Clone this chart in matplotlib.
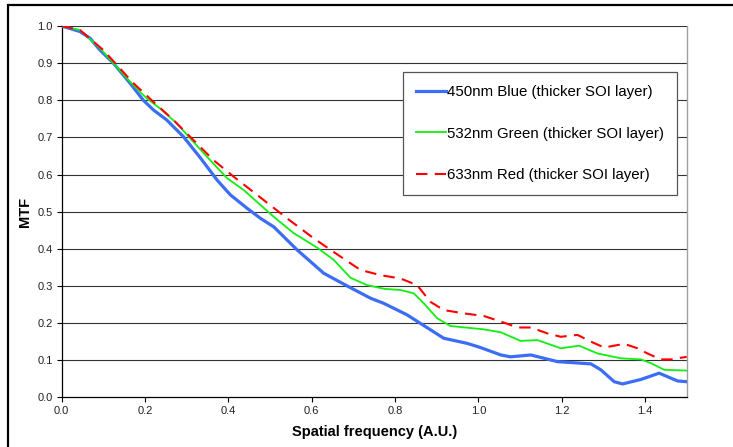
import matplotlib
matplotlib.use('Agg')
import matplotlib.pyplot as plt
from matplotlib.patches import Rectangle
from matplotlib.ticker import FormatStrFormatter

plt.rcParams['font.family'] = ['Liberation Sans', 'DejaVu Sans']

# ──────────────────── Data ────────────────────
blue_x = [0.0, 0.044, 0.068, 0.092, 0.124, 0.164, 0.196, 0.22, 0.252, 0.292,
          0.332, 0.373, 0.405, 0.445, 0.477, 0.509, 0.565, 0.629, 0.685, 0.741,
          0.773, 0.829, 0.861, 0.917, 0.974, 1.005, 1.054, 1.077, 1.126, 1.19,
          1.27, 1.294, 1.326, 1.346, 1.39, 1.434, 1.478, 1.50]
blue_y = [1.0, 0.985, 0.967, 0.935, 0.90, 0.846, 0.80, 0.774, 0.747, 0.702,
          0.646, 0.585, 0.545, 0.509, 0.482, 0.459, 0.397, 0.334, 0.30, 0.267,
          0.253, 0.222, 0.199, 0.159, 0.145, 0.134, 0.114, 0.109, 0.114, 0.096,
          0.090, 0.074, 0.042, 0.036, 0.048, 0.065, 0.044, 0.042]

green_x = [0.0, 0.044, 0.092, 0.164, 0.204, 0.236, 0.276, 0.316, 0.356, 0.397,
           0.437, 0.477, 0.509, 0.557, 0.613, 0.653, 0.693, 0.733, 0.775, 0.813,
           0.845, 0.869, 0.901, 0.933, 1.013, 1.054, 1.101, 1.142, 1.198, 1.242,
           1.286, 1.342, 1.39, 1.414, 1.446, 1.50]
green_y = [1.0, 0.989, 0.94, 0.85, 0.805, 0.778, 0.738, 0.688, 0.639, 0.59,
           0.558, 0.518, 0.486, 0.442, 0.403, 0.370, 0.322, 0.302, 0.292, 0.289,
           0.280, 0.253, 0.213, 0.192, 0.183, 0.175, 0.152, 0.154, 0.132, 0.139,
           0.118, 0.105, 0.102, 0.092, 0.074, 0.072]

red_x = [0.0, 0.044, 0.10, 0.172, 0.22, 0.268, 0.316, 0.364, 0.413, 0.477,
         0.541, 0.605, 0.669, 0.717, 0.765, 0.813, 0.853, 0.885, 0.917, 0.965,
         1.013, 1.054, 1.094, 1.126, 1.166, 1.198, 1.238, 1.27, 1.302, 1.35,
         1.382, 1.406, 1.438, 1.462, 1.50]
red_y = [1.0, 0.989, 0.935, 0.846, 0.796, 0.747, 0.693, 0.639, 0.594, 0.538,
         0.482, 0.428, 0.379, 0.343, 0.329, 0.32, 0.302, 0.257, 0.235, 0.226,
         0.219, 0.204, 0.188, 0.188, 0.172, 0.163, 0.168, 0.150, 0.134, 0.144,
         0.132, 0.118, 0.102, 0.102, 0.109]

labels = ['450nm Blue (thicker SOI layer)',
          '532nm Green (thicker SOI layer)',
          '633nm Red (thicker SOI layer)']
x_ticks = [0.0, 0.2, 0.4, 0.6, 0.8, 1.0, 1.2, 1.4]
y_ticks = [0.0, 0.1, 0.2, 0.3, 0.4, 0.5, 0.6, 0.7, 0.8, 0.9, 1.0]

# ──────────────────── Figure ────────────────────
fig = plt.figure(figsize=(7.33, 4.47), dpi=100)
ax = fig.add_axes([0.0842, 0.1112, 0.8526, 0.8306])

# outer chart border (cut off at right / bottom like the reference)
fig.patches.append(Rectangle((8 / 733, -0.2), 1.2, 0.2 + (1 - 5 / 447),
                             transform=fig.transFigure, fill=False,
                             edgecolor='black', linewidth=1.6, zorder=0))

for y in y_ticks[1:]:
    ax.axhline(y, color='#333333', linewidth=0.8, zorder=1)

ax.plot(blue_x, blue_y, color='#3b6df5', linewidth=2.3, label=labels[0],
        zorder=3, solid_joinstyle='round')
ax.plot(green_x, green_y, color='#11ee11', linewidth=1.3, label=labels[1],
        zorder=3, solid_joinstyle='round')
ax.plot(red_x, red_y, color='#ff0000', linewidth=1.5, dashes=(5.5, 3.5),
        label=labels[2], zorder=4)

ax.set_xlim(0, 1.5)
ax.set_ylim(0, 1.0)
ax.set_xticks(x_ticks)
ax.set_yticks(y_ticks)
ax.xaxis.set_major_formatter(FormatStrFormatter('%.1f'))
ax.yaxis.set_major_formatter(FormatStrFormatter('%.1f'))
ax.tick_params(axis='both', labelsize=8, length=3.5, width=0.8, pad=3,
               colors='black', labelcolor='#222222')

for side in ['left', 'bottom']:
    ax.spines[side].set_color('black')
    ax.spines[side].set_linewidth(0.9)
ax.spines['top'].set_visible(False)
ax.spines['right'].set_color('#a0a0a0')
ax.spines['right'].set_linewidth(1.0)

ax.set_xlabel('Spatial frequency (A.U.)', fontsize=10.5, fontweight='bold',
              labelpad=6)
ax.set_ylabel('MTF', fontsize=10.5, fontweight='bold', labelpad=4)

leg = ax.legend(loc='upper left', bbox_to_anchor=(0.546, 0.876), borderaxespad=0,
                fontsize=10.8, frameon=True, fancybox=False, framealpha=1,
                edgecolor='#555555', handlelength=2.0, handletextpad=0.1,
                labelspacing=1.85, borderpad=0.85)
leg.get_frame().set_linewidth(0.9)
leg.set_zorder(5)

fig.savefig('out.png', dpi=100)
